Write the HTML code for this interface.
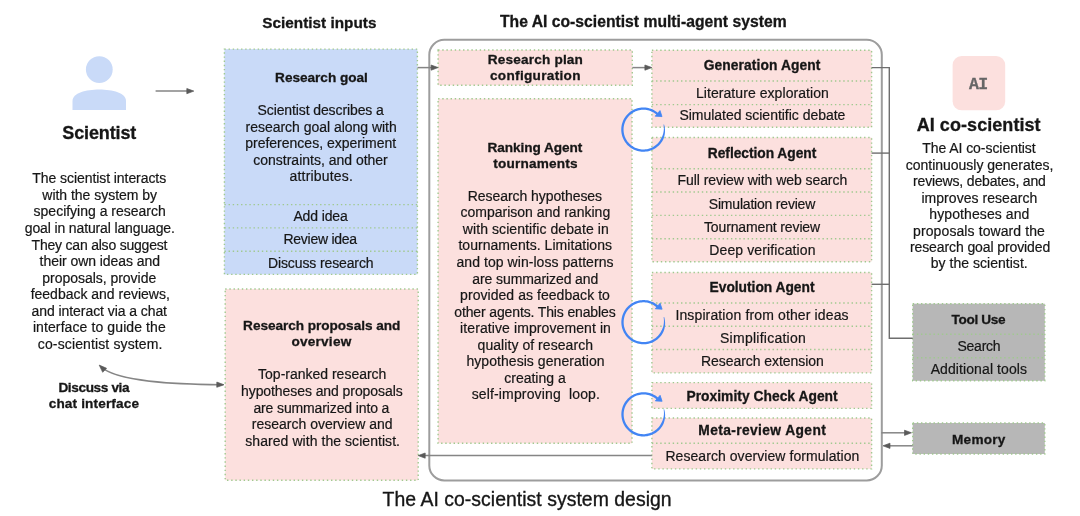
<!DOCTYPE html>
<html><head><meta charset="utf-8"><style>
html,body{margin:0;padding:0;background:#fff}
body{width:1080px;height:516px;position:relative;overflow:hidden;font-family:"Liberation Sans", sans-serif;color:#161616}
svg{position:absolute;left:0;top:0}
.t{position:absolute;white-space:nowrap}
#tx{position:absolute;left:0;top:0;width:1080px;height:516px;will-change:transform}
</style></head><body>
<svg width="1080" height="516" viewBox="0 0 1080 516">
<rect x="429.3" y="39.8" width="452.5" height="440.6" rx="15" fill="none" stroke="#9d9d9d" stroke-width="2"/>
<rect x="224.4" y="49.1" width="193.00" height="225.30" fill="#c9daf8"/>
<rect x="224.4" y="49.1" width="193.00" height="225.30" fill="none" stroke="#a0c98f" stroke-width="1.4" stroke-dasharray="1.4 2.76"/>
<line x1="224.4" y1="204.65" x2="417.4" y2="204.65" stroke="#a0c98f" stroke-width="1.4" stroke-dasharray="1.4 2.76"/>
<line x1="224.4" y1="227.9" x2="417.4" y2="227.9" stroke="#a0c98f" stroke-width="1.4" stroke-dasharray="1.4 2.76"/>
<line x1="224.4" y1="251.2" x2="417.4" y2="251.2" stroke="#a0c98f" stroke-width="1.4" stroke-dasharray="1.4 2.76"/>
<rect x="225.2" y="289" width="193.00" height="191.30" fill="#fce0de"/>
<rect x="225.2" y="289" width="193.00" height="191.30" fill="none" stroke="#a0c98f" stroke-width="1.4" stroke-dasharray="1.4 2.76"/>
<rect x="438.1" y="50" width="194.20" height="35.30" fill="#fce0de"/>
<rect x="438.1" y="50" width="194.20" height="35.30" fill="none" stroke="#a0c98f" stroke-width="1.4" stroke-dasharray="1.4 2.76"/>
<rect x="438.1" y="98.7" width="193.90" height="344.60" fill="#fce0de"/>
<rect x="438.1" y="98.7" width="193.90" height="344.60" fill="none" stroke="#a0c98f" stroke-width="1.4" stroke-dasharray="1.4 2.76"/>
<rect x="651.9" y="50.2" width="219.70" height="77.10" fill="#fce0de"/>
<rect x="651.9" y="50.2" width="219.70" height="77.10" fill="none" stroke="#a0c98f" stroke-width="1.4" stroke-dasharray="1.4 2.76"/>
<line x1="651.9" y1="81" x2="871.6" y2="81" stroke="#a0c98f" stroke-width="1.4" stroke-dasharray="1.4 2.76"/>
<line x1="651.9" y1="104.6" x2="871.6" y2="104.6" stroke="#a0c98f" stroke-width="1.4" stroke-dasharray="1.4 2.76"/>
<rect x="651.9" y="137.5" width="219.70" height="124.20" fill="#fce0de"/>
<rect x="651.9" y="137.5" width="219.70" height="124.20" fill="none" stroke="#a0c98f" stroke-width="1.4" stroke-dasharray="1.4 2.76"/>
<line x1="651.9" y1="168.8" x2="871.6" y2="168.8" stroke="#a0c98f" stroke-width="1.4" stroke-dasharray="1.4 2.76"/>
<line x1="651.9" y1="192.0" x2="871.6" y2="192.0" stroke="#a0c98f" stroke-width="1.4" stroke-dasharray="1.4 2.76"/>
<line x1="651.9" y1="215.4" x2="871.6" y2="215.4" stroke="#a0c98f" stroke-width="1.4" stroke-dasharray="1.4 2.76"/>
<line x1="651.9" y1="238.7" x2="871.6" y2="238.7" stroke="#a0c98f" stroke-width="1.4" stroke-dasharray="1.4 2.76"/>
<rect x="651.9" y="272.5" width="219.70" height="100.35" fill="#fce0de"/>
<rect x="651.9" y="272.5" width="219.70" height="100.35" fill="none" stroke="#a0c98f" stroke-width="1.4" stroke-dasharray="1.4 2.76"/>
<line x1="651.9" y1="303" x2="871.6" y2="303" stroke="#a0c98f" stroke-width="1.4" stroke-dasharray="1.4 2.76"/>
<line x1="651.9" y1="326.3" x2="871.6" y2="326.3" stroke="#a0c98f" stroke-width="1.4" stroke-dasharray="1.4 2.76"/>
<line x1="651.9" y1="349.5" x2="871.6" y2="349.5" stroke="#a0c98f" stroke-width="1.4" stroke-dasharray="1.4 2.76"/>
<rect x="651.9" y="382.6" width="219.70" height="25.80" fill="#fce0de"/>
<rect x="651.9" y="382.6" width="219.70" height="25.80" fill="none" stroke="#a0c98f" stroke-width="1.4" stroke-dasharray="1.4 2.76"/>
<rect x="651.9" y="418" width="219.70" height="50.90" fill="#fce0de"/>
<rect x="651.9" y="418" width="219.70" height="50.90" fill="none" stroke="#a0c98f" stroke-width="1.4" stroke-dasharray="1.4 2.76"/>
<line x1="651.9" y1="443.3" x2="871.6" y2="443.3" stroke="#a0c98f" stroke-width="1.4" stroke-dasharray="1.4 2.76"/>
<rect x="912.7" y="303.7" width="132.10" height="77.10" fill="#b7b7b7"/>
<rect x="912.7" y="303.7" width="132.10" height="77.10" fill="none" stroke="#a0c98f" stroke-width="1.4" stroke-dasharray="1.4 2.76"/>
<line x1="912.7" y1="334.3" x2="1044.8" y2="334.3" stroke="#a0c98f" stroke-width="1.4" stroke-dasharray="1.4 2.76"/>
<line x1="912.7" y1="357.7" x2="1044.8" y2="357.7" stroke="#a0c98f" stroke-width="1.4" stroke-dasharray="1.4 2.76"/>
<rect x="912.7" y="423" width="132.10" height="31.00" fill="#b7b7b7"/>
<rect x="912.7" y="423" width="132.10" height="31.00" fill="none" stroke="#a0c98f" stroke-width="1.4" stroke-dasharray="1.4 2.76"/>
<rect x="952.6" y="56" width="52.6" height="54.3" rx="9" fill="#fce0de"/>
<circle cx="99.3" cy="69.6" r="13.4" fill="#c9daf8"/>
<path d="M72.5,110 L72.5,101 C72.5,93 86,89.5 99.3,89.5 C112.6,89.5 126,93 126,101 L126,110 Z" fill="#c9daf8"/>
<line x1="155.6" y1="91.1" x2="188.8" y2="91.1" stroke="#858585" stroke-width="1.5"/>
<path d="M193.80,91.10 L186.80,93.70 L186.80,88.50 Z" fill="#5a5a5a" stroke="#5a5a5a" stroke-width="0.7" stroke-linejoin="round"/>
<line x1="417.5" y1="67.6" x2="433.1" y2="67.6" stroke="#858585" stroke-width="1.5"/>
<path d="M438.10,67.60 L431.10,70.20 L431.10,65.00 Z" fill="#5a5a5a" stroke="#5a5a5a" stroke-width="0.7" stroke-linejoin="round"/>
<line x1="632.3" y1="67.6" x2="646.9" y2="67.6" stroke="#858585" stroke-width="1.5"/>
<path d="M651.90,67.60 L644.90,70.20 L644.90,65.00 Z" fill="#5a5a5a" stroke="#5a5a5a" stroke-width="0.7" stroke-linejoin="round"/>
<path d="M871.6,67.6 H889.3 V338.2 H912.7" fill="none" stroke="#6e6e6e" stroke-width="1.4"/>
<line x1="871.6" y1="153.1" x2="889.3" y2="153.1" stroke="#6e6e6e" stroke-width="1.4"/>
<line x1="871.6" y1="284.3" x2="889.3" y2="284.3" stroke="#6e6e6e" stroke-width="1.4"/>
<line x1="881.3" y1="432.8" x2="906.5" y2="432.8" stroke="#858585" stroke-width="1.5"/>
<path d="M911.50,432.80 L904.50,435.40 L904.50,430.20 Z" fill="#5a5a5a" stroke="#5a5a5a" stroke-width="0.7" stroke-linejoin="round"/>
<line x1="888" y1="445.8" x2="912.7" y2="445.8" stroke="#858585" stroke-width="1.5"/>
<path d="M883.00,445.80 L890.00,443.20 L890.00,448.40 Z" fill="#5a5a5a" stroke="#5a5a5a" stroke-width="0.7" stroke-linejoin="round"/>
<line x1="423.2" y1="455.6" x2="651.9" y2="455.6" stroke="#858585" stroke-width="1.5"/>
<path d="M418.20,455.60 L425.20,453.00 L425.20,458.20 Z" fill="#5a5a5a" stroke="#5a5a5a" stroke-width="0.7" stroke-linejoin="round"/>
<path d="M101,366.8 C116.77,381.76 173.58,384.33 222.5,384.74" fill="none" stroke="#858585" stroke-width="1.5"/>
<path d="M99.20,365.10 L106.56,368.25 L102.70,372.30 Z" fill="#5a5a5a" stroke="#5a5a5a" stroke-width="0.7" stroke-linejoin="round"/>
<path d="M224.00,384.75 L216.78,387.29 L216.82,382.09 Z" fill="#5a5a5a" stroke="#5a5a5a" stroke-width="0.7" stroke-linejoin="round"/>
<path d="M664.07,124.45 L664.43,125.75 L664.70,127.08 L664.89,128.42 L665.00,129.78 L665.02,131.15 L664.96,132.53 L664.80,133.90 L664.56,135.26 L664.23,136.61 L663.82,137.94 L663.32,139.25 L662.68,140.50 L661.96,141.69 L661.16,142.84 L660.28,143.94 L659.35,144.97 L658.34,145.95 L657.28,146.86 L656.16,147.70 L654.99,148.47 L653.78,149.17 L652.52,149.79 L651.23,150.32 L649.90,150.77 L648.55,151.14 L647.18,151.43 L645.79,151.62 L644.40,151.73 L643.00,151.75 L641.60,151.68 L640.21,151.52 L638.83,151.27 L637.47,150.94 L636.13,150.52 L634.82,150.02 L633.55,149.44 L632.32,148.78 L631.13,148.04 L629.99,147.23 L628.90,146.34 L627.87,145.40 L626.90,144.38 L626.00,143.31 L625.17,142.18 L624.41,141.01 L623.73,139.79 L623.13,138.52 L622.60,137.22 L622.16,135.90 L621.81,134.54 L621.54,133.17 L621.36,131.78 L621.26,130.38 L621.26,128.98 L621.34,127.58 L621.51,126.19 L621.77,124.82 L622.12,123.46 L622.55,122.13 L623.06,120.83 L623.66,119.56 L624.33,118.33 L625.08,117.15 L625.90,116.02 L626.80,114.94 L627.76,113.92 L628.78,112.96 L629.86,112.07 L630.99,111.25 L632.18,110.50 L633.41,109.83 L634.67,109.24 L635.98,108.73 L637.31,108.30 L638.67,107.96 L640.05,107.71 L641.44,107.54 L642.83,107.46 L644.23,107.47 L645.63,107.56 L647.02,107.75 L648.39,108.02 L649.74,108.38 L651.07,108.82 L652.37,109.35 L653.63,109.95 L654.85,110.64 L656.03,111.40 L657.15,112.24 L658.22,113.14 L656.68,114.85 L655.72,114.04 L654.72,113.29 L653.66,112.61 L652.57,111.99 L651.44,111.45 L650.28,110.98 L649.09,110.58 L647.87,110.26 L646.64,110.02 L645.40,109.85 L644.15,109.76 L642.89,109.76 L641.64,109.83 L640.39,109.98 L639.16,110.21 L637.94,110.51 L636.75,110.90 L635.58,111.36 L634.44,111.89 L633.34,112.49 L632.28,113.16 L631.26,113.89 L630.30,114.69 L629.38,115.55 L628.52,116.46 L627.72,117.43 L626.98,118.44 L626.31,119.50 L625.71,120.60 L625.17,121.74 L624.71,122.91 L624.33,124.10 L624.02,125.31 L623.79,126.55 L623.63,127.79 L623.56,129.05 L623.56,130.30 L623.65,131.55 L623.81,132.80 L624.05,134.03 L624.37,135.24 L624.76,136.43 L625.23,137.60 L625.77,138.73 L626.39,139.82 L627.07,140.88 L627.81,141.89 L628.62,142.85 L629.48,143.76 L630.41,144.61 L631.38,145.40 L632.40,146.12 L633.47,146.79 L634.57,147.38 L635.71,147.90 L636.89,148.35 L638.08,148.72 L639.30,149.02 L640.54,149.24 L641.79,149.38 L643.04,149.45 L644.29,149.43 L645.54,149.33 L646.79,149.16 L648.02,148.91 L649.23,148.58 L650.41,148.17 L651.57,147.69 L652.70,147.14 L653.79,146.51 L654.84,145.82 L655.84,145.07 L656.79,144.25 L657.69,143.38 L658.53,142.45 L659.31,141.47 L660.03,140.44 L660.68,139.36 L661.28,138.26 L661.86,137.14 L662.37,135.99 L662.81,134.79 L663.18,133.57 L663.46,132.32 L663.67,131.06 L663.80,129.77 L663.84,128.48 L663.81,127.18 L663.69,125.88 L663.49,124.59 Z" fill="#4285f4"/>
<path d="M662.00,116.60 L655.20,116.20 L660.00,110.60 Z" fill="#4285f4" stroke="#4285f4" stroke-width="0.8" stroke-linejoin="round"/>
<path d="M664.17,317.05 L664.53,318.35 L664.80,319.68 L664.99,321.02 L665.10,322.38 L665.12,323.75 L665.06,325.13 L664.90,326.50 L664.66,327.86 L664.33,329.21 L663.92,330.54 L663.42,331.85 L662.78,333.10 L662.06,334.29 L661.26,335.44 L660.38,336.54 L659.45,337.57 L658.44,338.55 L657.38,339.46 L656.26,340.30 L655.09,341.07 L653.88,341.77 L652.62,342.39 L651.33,342.92 L650.00,343.37 L648.65,343.74 L647.28,344.03 L645.89,344.22 L644.50,344.33 L643.10,344.35 L641.70,344.28 L640.31,344.12 L638.93,343.87 L637.57,343.54 L636.23,343.12 L634.92,342.62 L633.65,342.04 L632.42,341.38 L631.23,340.64 L630.09,339.83 L629.00,338.94 L627.97,338.00 L627.00,336.98 L626.10,335.91 L625.27,334.78 L624.51,333.61 L623.83,332.39 L623.23,331.12 L622.70,329.82 L622.26,328.50 L621.91,327.14 L621.64,325.77 L621.46,324.38 L621.36,322.98 L621.36,321.58 L621.44,320.18 L621.61,318.79 L621.87,317.42 L622.22,316.06 L622.65,314.73 L623.16,313.43 L623.76,312.16 L624.43,310.93 L625.18,309.75 L626.00,308.62 L626.90,307.54 L627.86,306.52 L628.88,305.56 L629.96,304.67 L631.09,303.85 L632.28,303.10 L633.51,302.43 L634.77,301.84 L636.08,301.33 L637.41,300.90 L638.77,300.56 L640.15,300.31 L641.54,300.14 L642.93,300.06 L644.33,300.07 L645.73,300.16 L647.12,300.35 L648.49,300.62 L649.84,300.98 L651.17,301.42 L652.47,301.95 L653.73,302.55 L654.95,303.24 L656.13,304.00 L657.25,304.84 L658.32,305.74 L656.78,307.45 L655.82,306.64 L654.82,305.89 L653.76,305.21 L652.67,304.59 L651.54,304.05 L650.38,303.58 L649.19,303.18 L647.97,302.86 L646.74,302.62 L645.50,302.45 L644.25,302.36 L642.99,302.36 L641.74,302.43 L640.49,302.58 L639.26,302.81 L638.04,303.11 L636.85,303.50 L635.68,303.96 L634.54,304.49 L633.44,305.09 L632.38,305.76 L631.36,306.49 L630.40,307.29 L629.48,308.15 L628.62,309.06 L627.82,310.03 L627.08,311.04 L626.41,312.10 L625.81,313.20 L625.27,314.34 L624.81,315.51 L624.43,316.70 L624.12,317.91 L623.89,319.15 L623.73,320.39 L623.66,321.65 L623.66,322.90 L623.75,324.15 L623.91,325.40 L624.15,326.63 L624.47,327.84 L624.86,329.03 L625.33,330.20 L625.87,331.33 L626.49,332.42 L627.17,333.48 L627.91,334.49 L628.72,335.45 L629.58,336.36 L630.51,337.21 L631.48,338.00 L632.50,338.72 L633.57,339.39 L634.67,339.98 L635.81,340.50 L636.99,340.95 L638.18,341.32 L639.40,341.62 L640.64,341.84 L641.89,341.98 L643.14,342.05 L644.39,342.03 L645.64,341.93 L646.89,341.76 L648.12,341.51 L649.33,341.18 L650.51,340.77 L651.67,340.29 L652.80,339.74 L653.89,339.11 L654.94,338.42 L655.94,337.67 L656.89,336.85 L657.79,335.98 L658.63,335.05 L659.41,334.07 L660.13,333.04 L660.78,331.96 L661.38,330.86 L661.96,329.74 L662.47,328.59 L662.91,327.39 L663.28,326.17 L663.56,324.92 L663.77,323.66 L663.90,322.37 L663.94,321.08 L663.91,319.78 L663.79,318.48 L663.59,317.19 Z" fill="#4285f4"/>
<path d="M662.10,309.20 L655.30,308.80 L660.10,303.20 Z" fill="#4285f4" stroke="#4285f4" stroke-width="0.8" stroke-linejoin="round"/>
<path d="M664.17,409.15 L664.53,410.45 L664.80,411.78 L664.99,413.12 L665.10,414.48 L665.12,415.85 L665.06,417.23 L664.90,418.60 L664.66,419.96 L664.33,421.31 L663.92,422.64 L663.42,423.95 L662.78,425.20 L662.06,426.39 L661.26,427.54 L660.38,428.64 L659.45,429.67 L658.44,430.65 L657.38,431.56 L656.26,432.40 L655.09,433.17 L653.88,433.87 L652.62,434.49 L651.33,435.02 L650.00,435.47 L648.65,435.84 L647.28,436.13 L645.89,436.32 L644.50,436.43 L643.10,436.45 L641.70,436.38 L640.31,436.22 L638.93,435.97 L637.57,435.64 L636.23,435.22 L634.92,434.72 L633.65,434.14 L632.42,433.48 L631.23,432.74 L630.09,431.93 L629.00,431.04 L627.97,430.10 L627.00,429.08 L626.10,428.01 L625.27,426.88 L624.51,425.71 L623.83,424.49 L623.23,423.22 L622.70,421.92 L622.26,420.60 L621.91,419.24 L621.64,417.87 L621.46,416.48 L621.36,415.08 L621.36,413.68 L621.44,412.28 L621.61,410.89 L621.87,409.52 L622.22,408.16 L622.65,406.83 L623.16,405.53 L623.76,404.26 L624.43,403.03 L625.18,401.85 L626.00,400.72 L626.90,399.64 L627.86,398.62 L628.88,397.66 L629.96,396.77 L631.09,395.95 L632.28,395.20 L633.51,394.53 L634.77,393.94 L636.08,393.43 L637.41,393.00 L638.77,392.66 L640.15,392.41 L641.54,392.24 L642.93,392.16 L644.33,392.17 L645.73,392.26 L647.12,392.45 L648.49,392.72 L649.84,393.08 L651.17,393.52 L652.47,394.05 L653.73,394.65 L654.95,395.34 L656.13,396.10 L657.25,396.94 L658.32,397.84 L656.78,399.55 L655.82,398.74 L654.82,397.99 L653.76,397.31 L652.67,396.69 L651.54,396.15 L650.38,395.68 L649.19,395.28 L647.97,394.96 L646.74,394.72 L645.50,394.55 L644.25,394.46 L642.99,394.46 L641.74,394.53 L640.49,394.68 L639.26,394.91 L638.04,395.21 L636.85,395.60 L635.68,396.06 L634.54,396.59 L633.44,397.19 L632.38,397.86 L631.36,398.59 L630.40,399.39 L629.48,400.25 L628.62,401.16 L627.82,402.13 L627.08,403.14 L626.41,404.20 L625.81,405.30 L625.27,406.44 L624.81,407.61 L624.43,408.80 L624.12,410.01 L623.89,411.25 L623.73,412.49 L623.66,413.75 L623.66,415.00 L623.75,416.25 L623.91,417.50 L624.15,418.73 L624.47,419.94 L624.86,421.13 L625.33,422.30 L625.87,423.43 L626.49,424.52 L627.17,425.58 L627.91,426.59 L628.72,427.55 L629.58,428.46 L630.51,429.31 L631.48,430.10 L632.50,430.82 L633.57,431.49 L634.67,432.08 L635.81,432.60 L636.99,433.05 L638.18,433.42 L639.40,433.72 L640.64,433.94 L641.89,434.08 L643.14,434.15 L644.39,434.13 L645.64,434.03 L646.89,433.86 L648.12,433.61 L649.33,433.28 L650.51,432.87 L651.67,432.39 L652.80,431.84 L653.89,431.21 L654.94,430.52 L655.94,429.77 L656.89,428.95 L657.79,428.08 L658.63,427.15 L659.41,426.17 L660.13,425.14 L660.78,424.06 L661.38,422.96 L661.96,421.84 L662.47,420.69 L662.91,419.49 L663.28,418.27 L663.56,417.02 L663.77,415.76 L663.90,414.47 L663.94,413.18 L663.91,411.88 L663.79,410.58 L663.59,409.29 Z" fill="#4285f4"/>
<path d="M662.10,401.30 L655.30,400.90 L660.10,395.30 Z" fill="#4285f4" stroke="#4285f4" stroke-width="0.8" stroke-linejoin="round"/>
</svg>
<div id="tx">
<div class="t" style="left:62.32px;top:123px;font-size:18px;line-height:20px;font-weight:700;-webkit-text-stroke:0.3px;letter-spacing:-0.135px;">Scientist</div>
<div class="t" style="left:32.30px;top:170px;font-size:14.0px;line-height:16px;-webkit-text-stroke:0.2px;letter-spacing:-0.068px;">The scientist interacts</div>
<div class="t" style="left:42.30px;top:187px;font-size:14.0px;line-height:16px;-webkit-text-stroke:0.2px;letter-spacing:-0.021px;">with the system by</div>
<div class="t" style="left:33.60px;top:203px;font-size:14.0px;line-height:16px;-webkit-text-stroke:0.2px;letter-spacing:-0.010px;">specifying a research</div>
<div class="t" style="left:24.80px;top:220px;font-size:14.0px;line-height:16px;-webkit-text-stroke:0.2px;letter-spacing:-0.136px;">goal in natural language.</div>
<div class="t" style="left:31.60px;top:237px;font-size:14.0px;line-height:16px;-webkit-text-stroke:0.2px;letter-spacing:-0.215px;">They can also suggest</div>
<div class="t" style="left:39.60px;top:253px;font-size:14.0px;line-height:16px;-webkit-text-stroke:0.2px;letter-spacing:-0.051px;">their own ideas and</div>
<div class="t" style="left:42.30px;top:270px;font-size:14.0px;line-height:16px;-webkit-text-stroke:0.2px;letter-spacing:-0.030px;">proposals, provide</div>
<div class="t" style="left:30.70px;top:286px;font-size:14.0px;line-height:16px;-webkit-text-stroke:0.2px;letter-spacing:-0.011px;">feedback and reviews,</div>
<div class="t" style="left:31.60px;top:303px;font-size:14.0px;line-height:16px;-webkit-text-stroke:0.2px;letter-spacing:-0.072px;">and interact via a chat</div>
<div class="t" style="left:32.90px;top:319px;font-size:14.0px;line-height:16px;-webkit-text-stroke:0.2px;letter-spacing:0.101px;">interface to guide the</div>
<div class="t" style="left:37.80px;top:336px;font-size:14.0px;line-height:16px;-webkit-text-stroke:0.2px;letter-spacing:0.129px;">co-scientist system.</div>
<div class="t" style="left:58.40px;top:380px;font-size:13.6px;line-height:15px;font-weight:700;-webkit-text-stroke:0.3px;letter-spacing:-0.365px;">Discuss via</div>
<div class="t" style="left:48.70px;top:396px;font-size:13.6px;line-height:15px;font-weight:700;-webkit-text-stroke:0.3px;letter-spacing:0.144px;">chat interface</div>
<div class="t" style="left:262.20px;top:14px;font-size:15.3px;line-height:17px;font-weight:700;-webkit-text-stroke:0.3px;letter-spacing:0.028px;">Scientist inputs</div>
<div class="t" style="left:500.00px;top:13px;font-size:15.7px;line-height:17px;font-weight:700;-webkit-text-stroke:0.3px;letter-spacing:0.010px;">The AI co-scientist multi-agent system</div>
<div class="t" style="left:382.60px;top:488px;font-size:19.4px;line-height:22px;-webkit-text-stroke:0.35px;letter-spacing:0.040px;">The AI co-scientist system design</div>
<div class="t" style="left:275.10px;top:70px;font-size:13.6px;line-height:15px;font-weight:700;-webkit-text-stroke:0.3px;letter-spacing:-0.013px;">Research goal</div>
<div class="t" style="left:257.50px;top:102px;font-size:14.0px;line-height:16px;-webkit-text-stroke:0.2px;letter-spacing:-0.105px;">Scientist describes a</div>
<div class="t" style="left:245.50px;top:119px;font-size:14.0px;line-height:16px;-webkit-text-stroke:0.2px;letter-spacing:-0.021px;">research goal along with</div>
<div class="t" style="left:245.20px;top:135px;font-size:14.0px;line-height:16px;-webkit-text-stroke:0.2px;letter-spacing:0.001px;">preferences, experiment</div>
<div class="t" style="left:253.30px;top:152px;font-size:14.0px;line-height:16px;-webkit-text-stroke:0.2px;letter-spacing:-0.008px;">constraints, and other</div>
<div class="t" style="left:289.60px;top:168px;font-size:14.0px;line-height:16px;-webkit-text-stroke:0.2px;letter-spacing:0.171px;">attributes.</div>
<div class="t" style="left:293.40px;top:208px;font-size:14.0px;line-height:16px;-webkit-text-stroke:0.2px;letter-spacing:-0.126px;">Add idea</div>
<div class="t" style="left:283.50px;top:231px;font-size:14.0px;line-height:16px;-webkit-text-stroke:0.2px;letter-spacing:-0.268px;">Review idea</div>
<div class="t" style="left:268.00px;top:255px;font-size:14.0px;line-height:16px;-webkit-text-stroke:0.2px;letter-spacing:-0.119px;">Discuss research</div>
<div class="t" style="left:243.10px;top:318px;font-size:13.6px;line-height:15px;font-weight:700;-webkit-text-stroke:0.3px;letter-spacing:-0.033px;">Research proposals and</div>
<div class="t" style="left:291.40px;top:334px;font-size:13.6px;line-height:15px;font-weight:700;-webkit-text-stroke:0.3px;letter-spacing:0.241px;">overview</div>
<div class="t" style="left:258.10px;top:366px;font-size:14.0px;line-height:16px;-webkit-text-stroke:0.2px;letter-spacing:-0.006px;">Top-ranked research</div>
<div class="t" style="left:241.00px;top:383px;font-size:14.0px;line-height:16px;-webkit-text-stroke:0.2px;letter-spacing:-0.076px;">hypotheses and proposals</div>
<div class="t" style="left:253.40px;top:400px;font-size:14.0px;line-height:16px;-webkit-text-stroke:0.2px;letter-spacing:-0.126px;">are summarized into a</div>
<div class="t" style="left:251.80px;top:416px;font-size:14.0px;line-height:16px;-webkit-text-stroke:0.2px;letter-spacing:-0.003px;">research overview and</div>
<div class="t" style="left:245.30px;top:433px;font-size:14.0px;line-height:16px;-webkit-text-stroke:0.2px;letter-spacing:0.056px;">shared with the scientist.</div>
<div class="t" style="left:487.80px;top:52px;font-size:13.6px;line-height:15px;font-weight:700;-webkit-text-stroke:0.3px;letter-spacing:0.181px;">Research plan</div>
<div class="t" style="left:490.00px;top:68px;font-size:13.6px;line-height:15px;font-weight:700;-webkit-text-stroke:0.3px;letter-spacing:0.305px;">configuration</div>
<div class="t" style="left:487.40px;top:140px;font-size:13.6px;line-height:15px;font-weight:700;-webkit-text-stroke:0.3px;letter-spacing:-0.049px;">Ranking Agent</div>
<div class="t" style="left:493.30px;top:156px;font-size:13.6px;line-height:15px;font-weight:700;-webkit-text-stroke:0.3px;letter-spacing:0.193px;">tournaments</div>
<div class="t" style="left:467.70px;top:188px;font-size:14.0px;line-height:16px;-webkit-text-stroke:0.2px;letter-spacing:-0.056px;">Research hypotheses</div>
<div class="t" style="left:460.40px;top:204px;font-size:14.0px;line-height:16px;-webkit-text-stroke:0.2px;letter-spacing:0.017px;">comparison and ranking</div>
<div class="t" style="left:462.80px;top:221px;font-size:14.0px;line-height:16px;-webkit-text-stroke:0.2px;letter-spacing:0.084px;">with scientific debate in</div>
<div class="t" style="left:458.40px;top:237px;font-size:14.0px;line-height:16px;-webkit-text-stroke:0.2px;letter-spacing:0.047px;">tournaments. Limitations</div>
<div class="t" style="left:456.50px;top:254px;font-size:14.0px;line-height:16px;-webkit-text-stroke:0.2px;letter-spacing:0.057px;">and top win-loss patterns</div>
<div class="t" style="left:472.30px;top:271px;font-size:14.0px;line-height:16px;-webkit-text-stroke:0.2px;letter-spacing:-0.096px;">are summarized and</div>
<div class="t" style="left:460.10px;top:287px;font-size:14.0px;line-height:16px;-webkit-text-stroke:0.2px;letter-spacing:0.051px;">provided as feedback to</div>
<div class="t" style="left:454.30px;top:304px;font-size:14.0px;line-height:16px;-webkit-text-stroke:0.2px;letter-spacing:-0.136px;">other agents. This enables</div>
<div class="t" style="left:460.10px;top:320px;font-size:14.0px;line-height:16px;-webkit-text-stroke:0.2px;letter-spacing:0.094px;">iterative improvement in</div>
<div class="t" style="left:477.60px;top:337px;font-size:14.0px;line-height:16px;-webkit-text-stroke:0.2px;letter-spacing:0.055px;">quality of research</div>
<div class="t" style="left:466.40px;top:353px;font-size:14.0px;line-height:16px;-webkit-text-stroke:0.2px;letter-spacing:0.060px;">hypothesis generation</div>
<div class="t" style="left:504.30px;top:370px;font-size:14.0px;line-height:16px;-webkit-text-stroke:0.2px;letter-spacing:-0.011px;">creating a</div>
<div class="t" style="left:471.70px;top:386px;font-size:14.0px;line-height:16px;-webkit-text-stroke:0.2px;letter-spacing:0.146px;">self-improving&nbsp; loop.</div>
<div class="t" style="left:703.70px;top:58px;font-size:13.8px;line-height:15px;font-weight:700;-webkit-text-stroke:0.3px;letter-spacing:0.096px;">Generation Agent</div>
<div class="t" style="left:695.90px;top:85px;font-size:14.0px;line-height:16px;-webkit-text-stroke:0.2px;letter-spacing:0.070px;">Literature exploration</div>
<div class="t" style="left:679.40px;top:107px;font-size:14.0px;line-height:16px;-webkit-text-stroke:0.2px;letter-spacing:-0.021px;">Simulated scientific debate</div>
<div class="t" style="left:707.80px;top:146px;font-size:13.8px;line-height:15px;font-weight:700;-webkit-text-stroke:0.3px;letter-spacing:-0.041px;">Reflection Agent</div>
<div class="t" style="left:677.60px;top:172px;font-size:14.0px;line-height:16px;-webkit-text-stroke:0.2px;letter-spacing:-0.061px;">Full review with web search</div>
<div class="t" style="left:708.80px;top:196px;font-size:14.0px;line-height:16px;-webkit-text-stroke:0.2px;letter-spacing:-0.200px;">Simulation review</div>
<div class="t" style="left:704.00px;top:219px;font-size:14.0px;line-height:16px;-webkit-text-stroke:0.2px;letter-spacing:-0.135px;">Tournament review</div>
<div class="t" style="left:709.30px;top:242px;font-size:14.0px;line-height:16px;-webkit-text-stroke:0.2px;letter-spacing:0.119px;">Deep verification</div>
<div class="t" style="left:709.60px;top:280px;font-size:13.8px;line-height:15px;font-weight:700;-webkit-text-stroke:0.3px;letter-spacing:-0.027px;">Evolution Agent</div>
<div class="t" style="left:675.40px;top:307px;font-size:14.0px;line-height:16px;-webkit-text-stroke:0.2px;letter-spacing:0.132px;">Inspiration from other ideas</div>
<div class="t" style="left:720.00px;top:330px;font-size:14.0px;line-height:16px;-webkit-text-stroke:0.2px;letter-spacing:0.255px;">Simplification</div>
<div class="t" style="left:700.90px;top:353px;font-size:14.0px;line-height:16px;-webkit-text-stroke:0.2px;letter-spacing:-0.044px;">Research extension</div>
<div class="t" style="left:686.40px;top:389px;font-size:13.8px;line-height:15px;font-weight:700;-webkit-text-stroke:0.3px;letter-spacing:0.038px;">Proximity Check Agent</div>
<div class="t" style="left:698.30px;top:423px;font-size:13.8px;line-height:15px;font-weight:700;-webkit-text-stroke:0.3px;letter-spacing:0.381px;">Meta-review Agent</div>
<div class="t" style="left:665.40px;top:448px;font-size:14.0px;line-height:16px;-webkit-text-stroke:0.2px;letter-spacing:0.064px;">Research overview formulation</div>
<div class="t" style="left:969.05px;top:75px;font-size:16.5px;line-height:19px;font-weight:700;-webkit-text-stroke:0.3px;letter-spacing:-0.602px;color:#666666;font-family:'Liberation Mono',monospace;">AI</div>
<div class="t" style="left:916.70px;top:115px;font-size:18px;line-height:20px;font-weight:700;-webkit-text-stroke:0.3px;letter-spacing:0.062px;">AI co-scientist</div>
<div class="t" style="left:922.20px;top:140px;font-size:14.0px;line-height:16px;-webkit-text-stroke:0.2px;letter-spacing:-0.053px;">The AI co-scientist</div>
<div class="t" style="left:905.80px;top:157px;font-size:14.0px;line-height:16px;-webkit-text-stroke:0.2px;letter-spacing:-0.018px;">continuously generates,</div>
<div class="t" style="left:913.10px;top:173px;font-size:14.0px;line-height:16px;-webkit-text-stroke:0.2px;letter-spacing:-0.170px;">reviews, debates, and</div>
<div class="t" style="left:921.40px;top:190px;font-size:14.0px;line-height:16px;-webkit-text-stroke:0.2px;letter-spacing:0.046px;">improves research</div>
<div class="t" style="left:929.30px;top:206px;font-size:14.0px;line-height:16px;-webkit-text-stroke:0.2px;letter-spacing:0.095px;">hypotheses and</div>
<div class="t" style="left:913.10px;top:223px;font-size:14.0px;line-height:16px;-webkit-text-stroke:0.2px;letter-spacing:0.096px;">proposals toward the</div>
<div class="t" style="left:909.90px;top:239px;font-size:14.0px;line-height:16px;-webkit-text-stroke:0.2px;letter-spacing:-0.097px;">research goal provided</div>
<div class="t" style="left:930.80px;top:255px;font-size:14.0px;line-height:16px;-webkit-text-stroke:0.2px;letter-spacing:0.025px;">by the scientist.</div>
<div class="t" style="left:951.60px;top:312px;font-size:13.6px;line-height:15px;font-weight:700;-webkit-text-stroke:0.3px;letter-spacing:-0.362px;">Tool Use</div>
<div class="t" style="left:957.50px;top:338px;font-size:14.0px;line-height:16px;-webkit-text-stroke:0.2px;letter-spacing:-0.254px;">Search</div>
<div class="t" style="left:930.70px;top:361px;font-size:14.0px;line-height:16px;-webkit-text-stroke:0.2px;letter-spacing:0.090px;">Additional tools</div>
<div class="t" style="left:952.00px;top:432px;font-size:13.6px;line-height:15px;font-weight:700;-webkit-text-stroke:0.3px;letter-spacing:0.247px;">Memory</div>
</div>
</body></html>
